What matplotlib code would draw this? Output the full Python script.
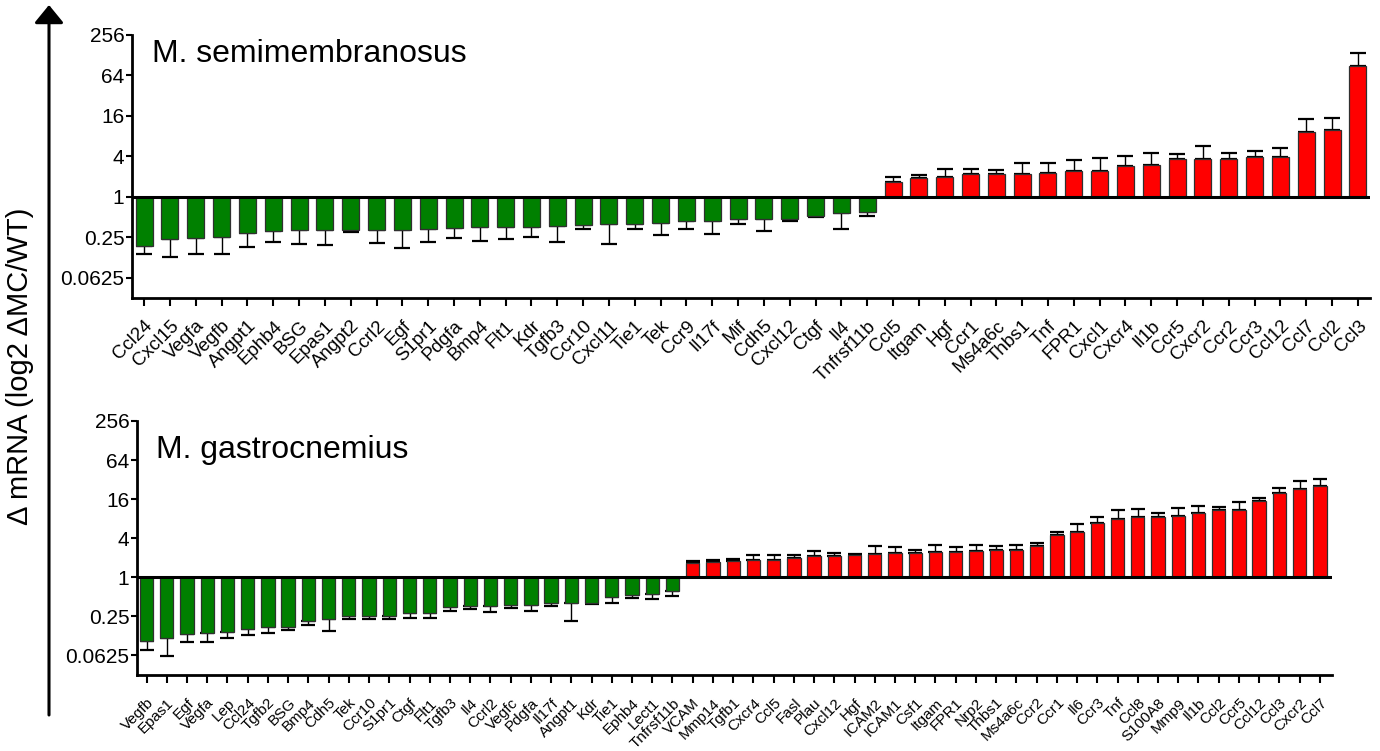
import matplotlib
matplotlib.use('Agg')
import matplotlib.pyplot as plt
import matplotlib.transforms as mtransforms
import numpy as np
from matplotlib.patches import FancyArrowPatch

plt.rcParams['font.family'] = ['Liberation Sans', 'DejaVu Sans']

# M. semimembranosus: fold change MC/WT and SEM (one sided)
semi_genes = ['Ccl24', 'Cxcl15', 'Vegfa', 'Vegfb', 'Angpt1', 'Ephb4', 'BSG', 'Epas1',
              'Angpt2', 'Ccrl2', 'Egf', 'S1pr1', 'Pdgfa', 'Bmp4', 'Flt1', 'Kdr', 'Tgfb3',
              'Ccr10', 'Cxcl11', 'Tie1', 'Tek', 'Ccr9', 'Il17f', 'Mif', 'Cdh5', 'Cxcl12',
              'Ctgf', 'Il4', 'Tnfrsf11b',
              'Ccl5', 'Itgam', 'Hgf', 'Ccr1', 'Ms4a6c', 'Thbs1', 'Tnf', 'FPR1', 'Cxcl1',
              'Cxcr4', 'Il1b', 'Ccr5', 'Cxcr2', 'Ccr2', 'Ccr3', 'Ccl12', 'Ccl7', 'Ccl2', 'Ccl3']
semi_fold = [0.188, 0.233, 0.240, 0.254, 0.291, 0.308, 0.323, 0.323,
             0.323, 0.325, 0.325, 0.337, 0.344, 0.356, 0.361, 0.361, 0.366,
             0.382, 0.392, 0.400, 0.406, 0.435, 0.444, 0.467, 0.467, 0.476,
             0.521, 0.570, 0.590,
             1.67, 1.92, 2.00, 2.17, 2.20, 2.17, 2.25, 2.45, 2.45,
             2.87, 2.97, 3.66, 3.66, 3.68, 3.89, 3.89, 9.32, 9.71, 89.9]
semi_sem = [0.048, 0.107, 0.100, 0.112, 0.112, 0.095, 0.121, 0.132,
            0.021, 0.116, 0.151, 0.121, 0.103, 0.137, 0.126, 0.107, 0.153,
            0.047, 0.190, 0.065, 0.138, 0.105, 0.163, 0.067, 0.153, 0.032,
            0.024, 0.233, 0.069,
            0.32, 0.22, 0.62, 0.41, 0.35, 0.97, 0.95, 1.11, 1.28,
            1.13, 1.59, 0.75, 2.04, 0.88, 0.97, 1.42, 4.9, 5.0, 50.0]

# M. gastrocnemius
gastro_genes = ['Vegfb', 'Epas1', 'Egf', 'Vegfa', 'Lep', 'Ccl24', 'Tgfb2', 'BSG', 'Bmp4',
                'Cdh5', 'Tek', 'Ccr10', 'S1pr1', 'Ctgf', 'Flt1', 'Tgfb3', 'Il4', 'Ccrl2',
                'Vegfc', 'Pdgfa', 'Il17f', 'Angpt1', 'Kdr', 'Tie1', 'Ephb4', 'Lect1',
                'Tnfrsf11b',
                'VCAM', 'Mmp14', 'Tgfb1', 'Cxcr4', 'Ccl5', 'Fasl', 'Plau', 'Cxcl12', 'Hgf',
                'ICAM2', 'ICAM1', 'Csf1', 'Itgam', 'FPR1', 'Nrp2', 'Thbs1', 'Ms4a6c', 'Ccr2',
                'Ccr1', 'Il6', 'Ccr3', 'Tnf', 'Ccl8', 'S100A8', 'Mmp9', 'Il1b', 'Ccl2',
                'Ccr5', 'Ccl12', 'Ccl3', 'Cxcr2', 'Ccl7']
gastro_fold = [0.104, 0.116, 0.135, 0.138, 0.145, 0.162, 0.171, 0.171, 0.216,
               0.230, 0.252, 0.255, 0.255, 0.279, 0.279, 0.351, 0.363, 0.363,
               0.371, 0.376, 0.403, 0.403, 0.409, 0.493, 0.536, 0.555,
               0.611,
               1.68, 1.73, 1.79, 1.85, 1.87, 1.99, 2.10, 2.16, 2.23,
               2.31, 2.33, 2.41, 2.46, 2.46, 2.51, 2.64, 2.66, 3.03,
               4.53, 4.99, 6.87, 7.94, 8.46, 8.63, 8.88, 9.78, 10.93,
               11.08, 15.03, 19.84, 23.10, 25.63]
gastro_sem = [0.028, 0.055, 0.033, 0.039, 0.027, 0.034, 0.034, 0.017, 0.034,
              0.083, 0.025, 0.031, 0.031, 0.044, 0.039, 0.043, 0.040, 0.074,
              0.029, 0.070, 0.047, 0.191, 0.027, 0.098, 0.050, 0.085,
              0.104,
              0.09, 0.10, 0.10, 0.38, 0.33, 0.21, 0.45, 0.20, 0.08,
              0.68, 0.60, 0.27, 0.72, 0.47, 0.59, 0.35, 0.54, 0.29,
              0.39, 1.69, 1.76, 2.99, 3.01, 1.02, 2.92, 2.95, 1.36,
              3.64, 1.88, 3.75, 7.81, 6.82]

yticks = [0.0625, 0.25, 1, 4, 16, 64, 256]
ytick_labels = ['0.0625', '0.25', '1', '4', '16', '64', '256']

W, H = 1380, 751
fig = plt.figure(figsize=(W / 100, H / 100), dpi=100)


def px_axes(left, top, right, bottom):
    return fig.add_axes([left / W, 1 - bottom / H, (right - left) / W, (bottom - top) / H])


def panel(ax, genes, fold, sem, title, title_y, xpad_r, lab_size, lab_pad, capsize):
    fold = np.array(fold)
    sem = np.array(sem)
    x = np.arange(len(genes))
    colors = np.where(fold < 1, '#008000', '#ff0000')
    lower = np.where(fold < 1, sem, 0)
    upper = np.where(fold < 1, 0, sem)
    ax.errorbar(x, fold, yerr=[lower, upper], fmt='none', ecolor='black',
                elinewidth=1.0, capsize=capsize, capthick=1.6, zorder=1)
    ax.bar(x, fold - 1, bottom=1, width=0.66, color=colors,
           edgecolor='#303030', linewidth=0.9, zorder=2)
    ax.axhline(1, color='black', lw=2.2, zorder=3)
    ax.set_yscale('log', base=2)
    ax.set_ylim(1 / 32, 256)
    ax.set_xlim(-0.47, len(genes) - 1 + xpad_r)
    ax.set_yticks(yticks)
    ax.set_yticklabels(ytick_labels)
    ax.minorticks_off()
    ax.set_xticks(x)
    ax.set_xticklabels(genes, rotation=45, ha='right', rotation_mode='anchor',
                       fontsize=lab_size)
    shift = mtransforms.ScaledTranslation(5 / 100, 0, fig.dpi_scale_trans)
    for lab in ax.get_xticklabels():
        lab.set_transform(lab.get_transform() + shift)
    for s in ['top', 'right']:
        ax.spines[s].set_visible(False)
    for s in ['left', 'bottom']:
        ax.spines[s].set_linewidth(2.0)
    ax.tick_params(axis='y', direction='out', length=4.5, width=1.5, labelsize=15, pad=1)
    ax.tick_params(axis='x', direction='out', length=6, width=1.5, pad=lab_pad)
    ax.text(0.016, title_y, title, transform=ax.transAxes,
            fontsize=23, va='center', ha='left')


ax1 = px_axes(132, 35, 1370, 298)
panel(ax1, semi_genes, semi_fold, semi_sem, 'M. semimembranosus', 0.928, 0.47, 13.5, 8, 6)

ax2 = px_axes(137, 421, 1332, 675)
panel(ax2, gastro_genes, gastro_fold, gastro_sem, 'M. gastrocnemius', 0.885, 0.6, 11, 9, 5)

# long arrow on the left with the common y label
arrow = FancyArrowPatch((49 / W, 1 - 715 / H), (49 / W, 1 - 5 / H),
                        transform=fig.transFigure,
                        arrowstyle='-|>,head_length=11,head_width=9',
                        mutation_scale=1, shrinkA=0, shrinkB=0,
                        color='black', lw=2.2)
fig.add_artist(arrow)
fig.text(20 / W, 1 - 366 / H, u'\u0394 mRNA (log2 \u0394MC/WT)', rotation=90,
         ha='center', va='center', fontsize=21)

fig.savefig('out.png', dpi=100)
